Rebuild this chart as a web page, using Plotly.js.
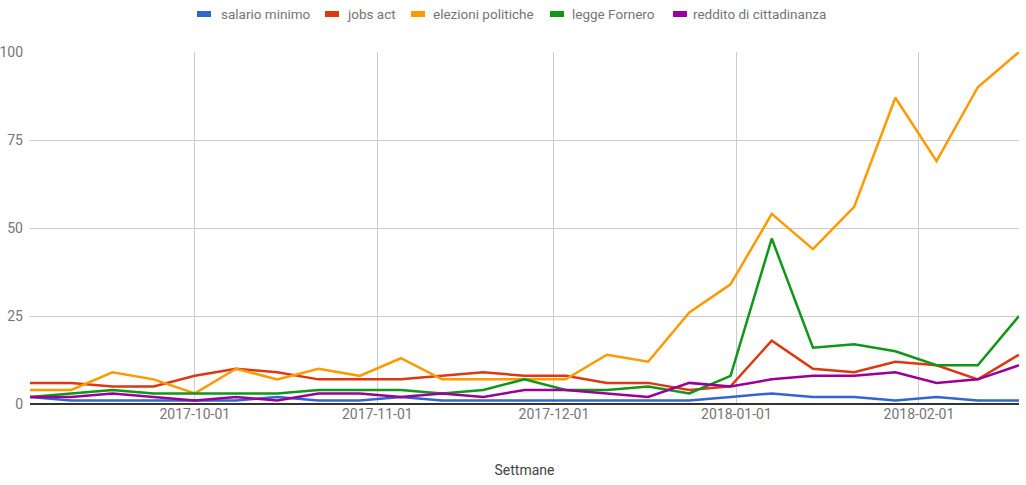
<!DOCTYPE html>
<html>
<head>
<meta charset="utf-8">
<script src="https://cdn.plot.ly/plotly-3.0.1.min.js"></script>
<style>html,body{margin:0;padding:0;background:#fff;}#chart{width:1026px;height:485px;}</style>
</head>
<body>
<div id="chart"></div>
<script>
const weeks = ["2017-09-03","2017-09-10","2017-09-17","2017-09-24","2017-10-01","2017-10-08","2017-10-15","2017-10-22","2017-10-29","2017-11-05","2017-11-12","2017-11-19","2017-11-26","2017-12-03","2017-12-10","2017-12-17","2017-12-24","2017-12-31","2018-01-07","2018-01-14","2018-01-21","2018-01-28","2018-02-04","2018-02-11","2018-02-18"];
const seriesNames = ["salario minimo","jobs act","elezioni politiche","legge Fornero","reddito di cittadinanza"];
const seriesColors = ["#3366cc","#dc3912","#ff9900","#109618","#990099"];
const salarioMinimo = [2,1,1,1,1,1,2,1,1,2,1,1,1,1,1,1,1,2,3,2,2,1,2,1,1];
const jobsAct = [6,6,5,5,8,10,9,7,7,7,8,9,8,8,6,6,4,5,18,10,9,12,11,7,14];
const elezioniPolitiche = [4,4,9,7,3,10,7,10,8,13,7,7,7,7,14,12,26,34,54,44,56,87,69,90,100];
const leggeFornero = [2,3,4,3,3,3,3,4,4,4,3,4,7,4,4,5,3,8,47,16,17,15,11,11,25];
const redditoCittadinanza = [2,2,3,2,1,2,1,3,3,2,3,2,4,4,3,2,6,5,7,8,8,9,6,7,11];
const yTicks = [0,25,50,75,100];
const xTicks = ["2017-10-01","2017-11-01","2017-12-01","2018-01-01","2018-02-01"];

const allSeries = [salarioMinimo, jobsAct, elezioniPolitiche, leggeFornero, redditoCittadinanza];
const traces = allSeries.map((vals, i) => ({
  type: 'scatter', mode: 'lines', x: weeks, y: vals, name: seriesNames[i],
  line: {color: seriesColors[i], width: 2.5}, cliponaxis: false, showlegend: false,
  hoverinfo: 'x+y+name'
}));

// Legend (Google-Charts style), placed in pixel positions converted to paper coords
const W = 1026, H = 485, M = {l: 30, r: 7, t: 52, b: 81};
const pw = W - M.l - M.r, ph = H - M.t - M.b;
const px = x => (x - M.l) / pw;
const py = y => (H - M.b - y) / ph;
const swatchLeft = [197, 325, 411, 550, 673];
const textLeft = [220, 346, 432, 571, 692];
const legendY = 14;
const shapes = [], annotations = [];
seriesNames.forEach((n, i) => {
  shapes.push({type: 'rect', xref: 'paper', yref: 'paper',
    x0: px(swatchLeft[i]), x1: px(swatchLeft[i] + 14), y0: py(legendY + 3), y1: py(legendY - 3),
    fillcolor: seriesColors[i], line: {width: 0}});
  annotations.push({xref: 'paper', yref: 'paper', x: px(textLeft[i]), y: py(legendY),
    xanchor: 'left', yanchor: 'middle', text: n, showarrow: false, borderpad: 0,
    font: {family: 'Roboto, sans-serif', size: 13.5, color: '#757575'}});
});

const font = {family: 'Roboto, "Open Sans", sans-serif', size: 13, color: '#757575'};
const layout = {
  width: W, height: H,
  margin: {l: M.l, r: M.r, t: M.t, b: M.b, autoexpand: false},
  paper_bgcolor: '#fff', plot_bgcolor: '#fff',
  font: font,
  showlegend: false,
  shapes: shapes, annotations: annotations,
  xaxis: {
    type: 'date', range: ['2017-09-03','2018-02-18'],
    tickvals: xTicks, ticktext: xTicks, automargin: false,
    showgrid: true, gridcolor: '#cccccc', gridwidth: 1,
    zeroline: false, showline: false, ticks: '',
    tickfont: {family: font.family, size: 14, color: '#757575'},
    title: {text: 'Settmane', font: {family: font.family, size: 14, color: '#444'}, standoff: 44}
  },
  yaxis: {
    range: [0, 100], tickvals: yTicks, ticktext: yTicks.map(String), automargin: false,
    showgrid: true, gridcolor: '#cccccc', gridwidth: 1,
    zeroline: true, zerolinecolor: '#333', zerolinewidth: 1.5,
    showline: false, ticks: '', ticklabelstandoff: 6,
    tickfont: {family: font.family, size: 14, color: '#757575'}
  }
};
Plotly.newPlot('chart', traces, layout, {displayModeBar: false, responsive: false});
</script>
</body>
</html>
